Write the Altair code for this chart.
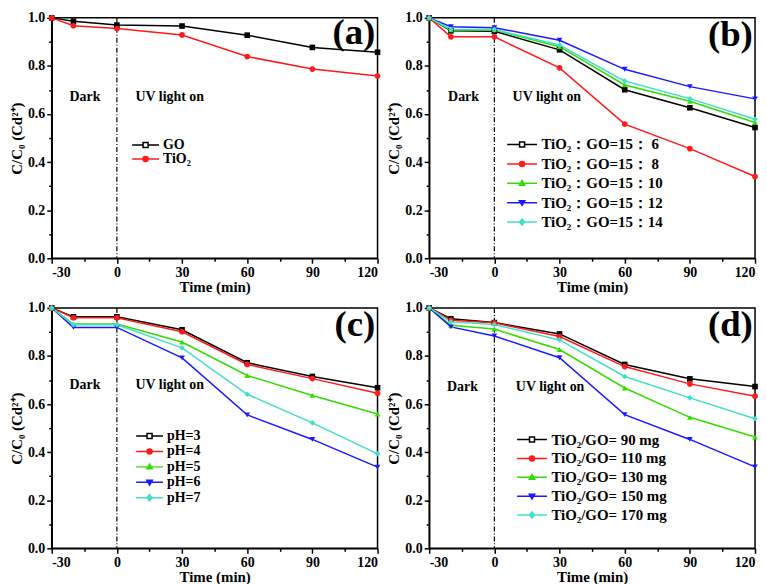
import altair as alt
import pandas as pd

times = [-30, -20, 0, 30, 60, 90, 120]

# Panel (a)
a_labels = ["GO", "TiO₂"]
a_go = [1.0, 0.986, 0.970, 0.966, 0.928, 0.877, 0.857]
a_tio2 = [1.0, 0.967, 0.956, 0.929, 0.839, 0.787, 0.758]

# Panel (b)
b_labels = ["TiO₂：GO=15： 6", "TiO₂：GO=15： 8", "TiO₂：GO=15：10",
            "TiO₂：GO=15：12", "TiO₂：GO=15：14"]
b_6 = [1.0, 0.946, 0.944, 0.867, 0.701, 0.626, 0.544]
b_8 = [1.0, 0.921, 0.921, 0.792, 0.558, 0.456, 0.340]
b_10 = [1.0, 0.950, 0.950, 0.880, 0.721, 0.653, 0.565]
b_12 = [1.0, 0.963, 0.959, 0.907, 0.786, 0.714, 0.663]
b_14 = [1.0, 0.952, 0.952, 0.887, 0.737, 0.664, 0.578]

# Panel (c)
c_labels = ["pH=3", "pH=4", "pH=5", "pH=6", "pH=7"]
c_3 = [1.0, 0.963, 0.963, 0.909, 0.772, 0.715, 0.668]
c_4 = [1.0, 0.959, 0.959, 0.901, 0.765, 0.706, 0.645]
c_5 = [1.0, 0.933, 0.933, 0.858, 0.719, 0.636, 0.559]
c_6 = [1.0, 0.919, 0.919, 0.792, 0.555, 0.453, 0.338]
c_7 = [1.0, 0.930, 0.930, 0.834, 0.641, 0.522, 0.393]

# Panel (d)
d_labels = ["TiO₂/GO= 90 mg", "TiO₂/GO= 110 mg", "TiO₂/GO= 130 mg",
            "TiO₂/GO= 150 mg", "TiO₂/GO= 170 mg"]
d_90 = [1.0, 0.955, 0.939, 0.892, 0.765, 0.705, 0.673]
d_110 = [1.0, 0.949, 0.938, 0.881, 0.756, 0.684, 0.633]
d_130 = [1.0, 0.928, 0.912, 0.827, 0.667, 0.545, 0.463]
d_150 = [1.0, 0.921, 0.883, 0.793, 0.556, 0.453, 0.339]
d_170 = [1.0, 0.942, 0.931, 0.867, 0.715, 0.626, 0.539]

x_ticks = [-30, 0, 30, 60, 90, 120]
x_minor = [-15, 15, 45, 75, 105]
y_ticks = [0.0, 0.2, 0.4, 0.6, 0.8, 1.0]
y_minor = [0.1, 0.3, 0.5, 0.7, 0.9]

colors = ["#000000", "#ff1a1a", "#33dd00", "#1a1aff", "#40e0c8"]
shapes = ["square", "circle", "triangle-up", "triangle-down", "diamond"]
legend_fills = ["#ffffff", "#ff1a1a", "#33dd00", "#1a1aff", "#40e0c8"]

FONT = "Liberation Serif"
W, H = 328, 242


def marker_path(shape, cx, r):
    if shape == "square":
        return f"M{cx - r},{-r}H{cx + r}V{r}H{cx - r}Z"
    if shape == "circle":
        return (f"M{cx - r},0A{r},{r} 0 1,0 {cx + r},0"
                f"A{r},{r} 0 1,0 {cx - r},0Z")
    if shape == "triangle-up":
        return f"M{cx},{-r * 1.1}L{cx + r * 1.1},{r * 0.8}L{cx - r * 1.1},{r * 0.8}Z"
    if shape == "triangle-down":
        return f"M{cx},{r * 1.1}L{cx + r * 1.1},{-r * 0.8}L{cx - r * 1.1},{-r * 0.8}Z"
    return f"M{cx},{-r * 1.25}L{cx + r},0L{cx},{r * 1.25}L{cx - r},0Z"


def legend_path(shape, left, r=0.42):
    cx = (left + 1.0) / 2.0
    return f"M{left},0H{cx - r}M{cx + r},0H1" + marker_path(shape, cx, r)


def js_list(items):
    return "[" + ",".join("'" + s + "'" for s in items) + "]"


def x_label_expr():
    return "datum.value < 0 ? '-' + abs(datum.value) : '' + datum.value"


def panel(labels, series, letter, leg_x, leg_y, leg_left, row_pad, leg_font,
          dark_xy, uv_xy, lab_y):
    n = len(labels)
    rows = []
    for lab, vals in zip(labels, series):
        for t, v in zip(times, vals):
            rows.append({"t": t, "v": v, "s": lab})
    df = pd.DataFrame(rows)
    cols = colors[:n]
    shps = shapes[:n]
    paths = [legend_path(s, leg_left) for s in shps]

    xscale = alt.Scale(domain=[-30, 120], nice=False, zero=False)
    yscale = alt.Scale(domain=[0, 1], nice=False)

    x_axis = alt.Axis(values=x_ticks, labelExpr=x_label_expr(), title="Time (min)",
                      tickSize=5, grid=False, titlePadding=0, labelPadding=2)
    y_axis = alt.Axis(values=y_ticks, format=".1f", title="C/C₀ (Cd²⁺)",
                      tickSize=5, grid=False, titlePadding=3, labelPadding=2)

    legend = alt.Legend(
        title=None, orient="none", legendX=leg_x, legendY=leg_y,
        symbolSize=144, labelOffset=3, rowPadding=row_pad, padding=0,
        labelFont=FONT, labelFontWeight="bold", labelFontSize=leg_font,
        labelColor="black",
        symbolType={"expr": js_list(paths) + "[datum.index]"},
        symbolFillColor={"expr": js_list(legend_fills[:n]) + "[datum.index]"},
        symbolStrokeColor={"expr": js_list(cols) + "[datum.index]"},
        symbolStrokeWidth=1.5, symbolOpacity=1,
    )

    color = alt.Color("s:N", scale=alt.Scale(domain=labels, range=cols), legend=legend)

    base = alt.Chart(df)
    lines = base.mark_line(strokeWidth=1.5).encode(
        x=alt.X("t:Q", scale=xscale, axis=x_axis),
        y=alt.Y("v:Q", scale=yscale, axis=y_axis),
        color=color,
        order=alt.Order("t:Q"),
    )
    pt_layers = []
    for lab, col, shp in zip(labels, cols, shps):
        pt_layers.append(
            base.transform_filter(alt.datum.s == lab).mark_point(
                filled=True, size=32, opacity=1, shape=shp, color=col
            ).encode(
                x=alt.X("t:Q", scale=xscale, axis=None),
                y=alt.Y("v:Q", scale=yscale, axis=None),
            )
        )

    rule = alt.Chart(pd.DataFrame({"t": [0]})).mark_rule(
        color="black", strokeWidth=1.2, strokeDash=[5, 2, 1, 2]
    ).encode(x=alt.X("t:Q", scale=xscale, axis=None))

    notes = pd.DataFrame({
        "t": [dark_xy[0], uv_xy[0]],
        "v": [dark_xy[1], uv_xy[1]],
        "txt": ["Dark", "UV light on"],
    })
    note_txt = alt.Chart(notes).mark_text(
        align="left", baseline="middle", font=FONT, fontWeight="bold",
        fontSize=14, color="black"
    ).encode(
        x=alt.X("t:Q", scale=xscale, axis=None),
        y=alt.Y("v:Q", scale=yscale, axis=None),
        text="txt:N",
    )

    lab = alt.Chart(pd.DataFrame({"t": [119], "v": [lab_y], "txt": [letter]})).mark_text(
        align="right", baseline="middle", font=FONT, fontWeight="bold",
        fontSize=37, color="black"
    ).encode(
        x=alt.X("t:Q", scale=xscale, axis=None),
        y=alt.Y("v:Q", scale=yscale, axis=None),
        text="txt:N",
    )

    minor = alt.Chart(pd.DataFrame({"t": [0], "v": [0]})).mark_point(opacity=0).encode(
        x=alt.X("t:Q", scale=xscale,
                axis=alt.Axis(values=x_minor, labels=False, tickSize=3, domain=False,
                              grid=False, title=None, orient="bottom")),
        y=alt.Y("v:Q", scale=yscale,
                axis=alt.Axis(values=y_minor, labels=False, tickSize=3, domain=False,
                              grid=False, title=None, orient="left")),
    )

    return alt.layer(rule, lines, *pt_layers, note_txt, lab, minor).resolve_axis(
        x="independent", y="independent"
    ).properties(width=W, height=H)


pa = panel(a_labels, [a_go, a_tio2], "(a)", 95, 121, -3.5, -1, 14,
           (-21.8, 0.67), (8.6, 0.67), 0.935)
pb = panel(b_labels, [b_6, b_8, b_10, b_12, b_14], "(b)", 95, 120, -4.0, 3.5, 15,
           (-21.3, 0.67), (8.4, 0.67), 0.93)
pc = panel(c_labels, [c_3, c_4, c_5, c_6, c_7], "(c)", 99, 122, -3.5, 1.5, 14,
           (-21.8, 0.68), (8.6, 0.68), 0.93)
pd_ = panel(d_labels, [d_90, d_110, d_130, d_150, d_170], "(d)", 105, 125, -4.0, 3, 15,
            (-21.8, 0.67), (9.9, 0.67), 0.93)

row1 = alt.hconcat(pa, pb, spacing=4).resolve_scale(color="independent").resolve_legend(color="independent")
row2 = alt.hconcat(pc, pd_, spacing=4).resolve_scale(color="independent").resolve_legend(color="independent")

chart = alt.vconcat(row1, row2, spacing=5).resolve_scale(
    color="independent"
).resolve_legend(color="independent").properties(
    padding=0
).configure_view(
    stroke="black", strokeWidth=1.5
).configure_axis(
    labelFont=FONT, labelFontWeight="bold", labelFontSize=14, labelColor="black",
    titleFont=FONT, titleFontWeight="bold", titleFontSize=15, titleColor="black",
    domainColor="black", domainWidth=1.5, tickColor="black", tickWidth=1.5,
)

chart.save("out.html", embed_options={"renderer": "svg", "actions": False})
